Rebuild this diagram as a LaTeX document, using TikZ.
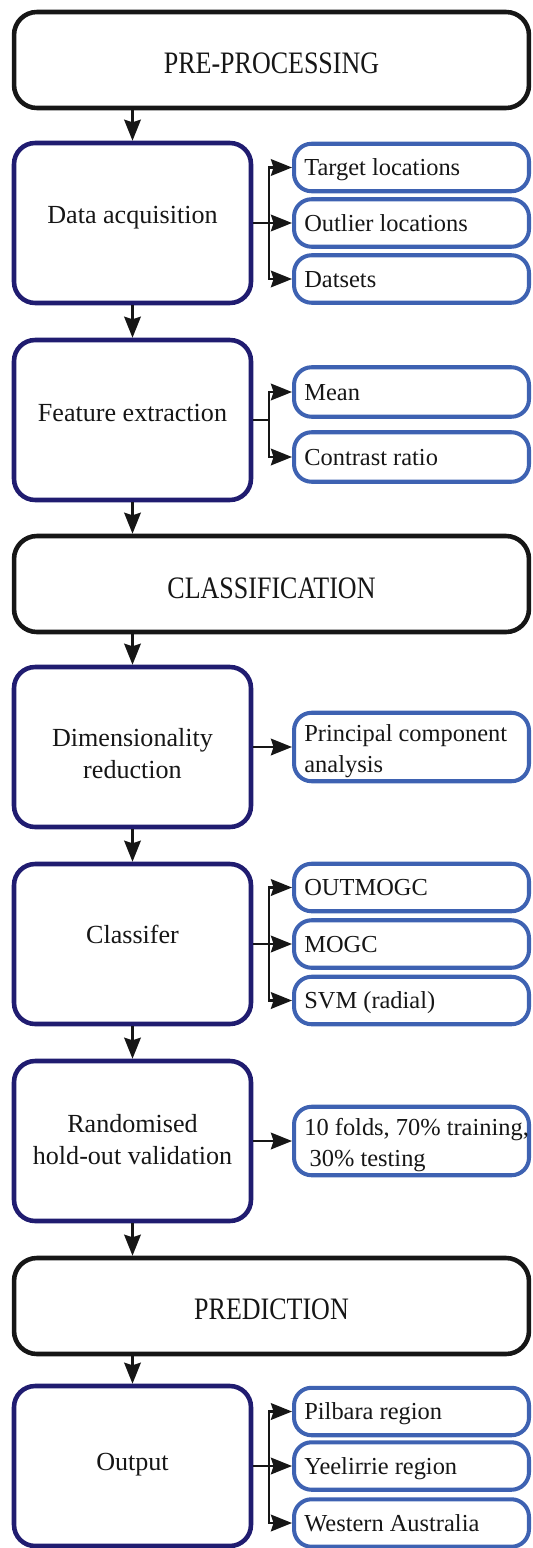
\documentclass[tikz,border=0pt]{standalone}
\usepackage{fontspec}
\usepackage{graphicx}
\setmainfont{Liberation Serif}
\usetikzlibrary{arrows.meta}
\definecolor{navy}{RGB}{32,28,112}
\definecolor{subblue}{RGB}{62,98,178}
\definecolor{ink}{RGB}{22,22,22}
\newcommand\myhead{\fontsize{14.8pt}{17pt}\selectfont}
\newcommand\mymain{\fontsize{14.85pt}{18pt}\selectfont}
\newcommand\mysub{\fontsize{13.9pt}{17pt}\selectfont}
\newcommand\htxt[1]{\scalebox{1}[1.2]{#1}}
\begin{document}
\begin{tikzpicture}[x=0.02cm,y=-0.02cm,
  headbox/.style={draw=ink, line width=2.6pt, rounded corners=13pt, minimum width=10.3cm, minimum height=1.92cm, inner sep=0pt},
  mainbox/.style={draw=navy, line width=2.6pt, rounded corners=12pt, minimum width=4.74cm, minimum height=3.2cm, inner sep=0pt},
  subbox/.style={draw=subblue, line width=2.3pt, rounded corners=10pt, minimum width=4.7cm, minimum height=0.95cm, inner sep=0pt},
  subpair/.style={subbox, minimum height=0.99cm},
  subtall/.style={subbox, minimum height=1.37cm},
  headtext/.style={anchor=base, inner sep=0pt, font=\myhead, text=ink},
  maintext/.style={anchor=base, inner sep=0pt, font=\mymain, text=ink},
  subtext/.style={anchor=base west, inner sep=0pt, font=\mysub, text=ink},
  link/.style={draw=ink, line width=1.3pt, -{Stealth[length=12pt,width=9.5pt,inset=1.5pt]}}
]
\useasboundingbox (0,0) rectangle (532,1548);

% heading boxes
\node[headbox] (pre) at (271.5,60) {};
\node[headtext] (pret) at (271.5,74) {\htxt{PRE-PROCESSING}};
\node[headbox] (cls) at (271.5,584) {};
\node[headtext] (clst) at (271.5,598) {\htxt{CLASSIFICATION}};
\node[headbox] (pred) at (271.5,1306) {};
\node[headtext] (predt) at (271.5,1319) {\htxt{PREDICTION}};

% main boxes
\node[mainbox] (data) at (132.5,223) {};
\node[maintext] (datat) at (132.5,223) {Data acquisition};
\node[mainbox] (feat) at (132.5,420) {};
\node[maintext] (featt) at (132.5,421) {Feature extraction};
\node[mainbox] (dim) at (132.5,747) {};
\node[maintext] (dimt1) at (132.5,746) {Dimensionality};
\node[maintext] (dimt2) at (132.5,778) {reduction};
\node[mainbox] (clf) at (132.5,944) {};
\node[maintext] (clft) at (132.5,943) {Classifer};
\node[mainbox] (rand) at (132.5,1141) {};
\node[maintext] (randt1) at (132.5,1132) {Randomised};
\node[maintext] (randt2) at (132.5,1164) {hold-out validation};
\node[mainbox] (out) at (132.5,1466) {};
\node[maintext] (outt) at (132.5,1470) {Output};

% sub boxes
\node[subbox] (target) at (411.5,167.5) {};
\node[subtext] (targett) at (304,175.5) {Target locations};
\node[subbox] (outlier) at (411.5,223) {};
\node[subtext] (outliert) at (304,231) {Outlier locations};
\node[subbox] (dsets) at (411.5,279) {};
\node[subtext] (dsetst) at (304,287) {Datsets};

\node[subpair] (mean) at (411.5,392) {};
\node[subtext] (meant) at (304,400) {Mean};
\node[subpair] (contr) at (411.5,457) {};
\node[subtext] (contrt) at (304,465) {Contrast ratio};

\node[subtall] (pca) at (411.5,747) {};
\node[subtext] (pcat1) at (304,741) {Principal component};
\node[subtext] (pcat2) at (304,772.5) {analysis};

\node[subbox] (omogc) at (411.5,887.5) {};
\node[subtext] (omogct) at (304,895.5) {OUTMOGC};
\node[subbox] (mogc) at (411.5,944) {};
\node[subtext] (mogct) at (304,952) {MOGC};
\node[subbox] (svm) at (411.5,1000.5) {};
\node[subtext] (svmt) at (304,1008.5) {SVM (radial)};

\node[subtall] (folds) at (411.5,1141) {};
\node[subtext] (foldst1) at (304,1135) {10 folds, 70\% training,};
\node[subtext] (foldst2) at (304,1166.5) {\hspace{0.22em}30\% testing};

\node[subbox] (pil) at (411.5,1411.5) {};
\node[subtext] (pilt) at (304,1419.5) {Pilbara region};
\node[subbox] (yee) at (411.5,1466) {};
\node[subtext] (yeet) at (304,1474) {Yeelirrie region};
\node[subbox] (wa) at (411.5,1523) {};
\node[subtext] (wat) at (304,1531) {Western Australia};

% vertical flow
\draw[link] (data.north |- pre.south) -- (data.north);
\draw[link] (data.south) -- (feat.north);
\draw[link] (feat.south) -- (feat.south |- cls.north);
\draw[link] (dim.north |- cls.south) -- (dim.north);
\draw[link] (dim.south) -- (clf.north);
\draw[link] (clf.south) -- (rand.north);
\draw[link] (rand.south) -- (rand.south |- pred.north);
\draw[link] (out.north |- pred.south) -- (out.north);

% branches
\draw[link] (data.east) -- ++(15.7,0) |- (target.west);
\draw[link] (data.east) -- (outlier.west);
\draw[link] (data.east) -- ++(15.7,0) |- (dsets.west);

\draw[link] (feat.east) -- ++(15.7,0) |- (mean.west);
\draw[link] (feat.east) -- ++(15.7,0) |- (contr.west);

\draw[link] (dim.east) -- (pca.west);

\draw[link] (clf.east) -- ++(15.7,0) |- (omogc.west);
\draw[link] (clf.east) -- (mogc.west);
\draw[link] (clf.east) -- ++(15.7,0) |- (svm.west);

\draw[link] (rand.east) -- (folds.west);

\draw[link] (out.east) -- ++(15.7,0) |- (pil.west);
\draw[link] (out.east) -- (yee.west);
\draw[link] (out.east) -- ++(15.7,0) |- (wa.west);
\end{tikzpicture}
\end{document}
